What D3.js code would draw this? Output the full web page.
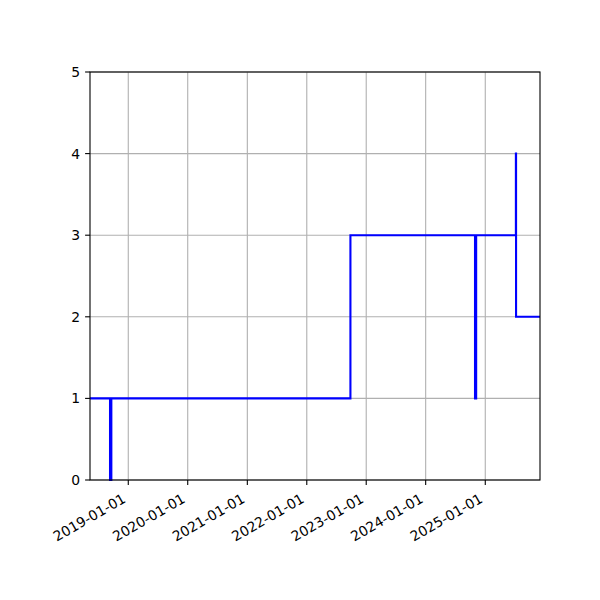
<!DOCTYPE html>
<html lang="en">
<head>
    <meta charset="UTF-8">
    <title></title>
    <script src="https://cdn.jsdelivr.net/npm/d3@7"></script>
    <style>
        body { margin: 0; background: #fff; }
        text { font-family: "DejaVu Sans", sans-serif; font-size: 13.9px; fill: #000; }
    </style>
</head>
<body>
    <script>
        const dates = [
            "2018-05-11", "2018-09-11", "2018-09-19", "2022-09-26",
            "2024-10-30", "2024-11-06", "2025-07-08", "2025-07-09", "2025-12-03"
        ];
        const values = [1, 0, 1, 3, 1, 3, 4, 2, 2];
        const yTicks = [0, 1, 2, 3, 4, 5];

        const width = 600;
        const height = 600;
        const marginTop = 72;
        const marginRight = 60;
        const marginBottom = 120;
        const marginLeft = 90;

        const parse = d3.utcParse("%Y-%m-%d");
        const data = dates.map((d, i) => ({date: parse(d), value: values[i]}));

        const x = d3.scaleUtc()
            .domain(d3.extent(data, d => d.date))
            .range([marginLeft, width - marginRight]);

        const y = d3.scaleLinear()
            .domain([0, 5])
            .range([height - marginBottom, marginTop]);

        const svg = d3.select("body").append("svg")
            .attr("width", width)
            .attr("height", height);

        const xTicks = x.ticks(d3.utcYear);
        const fmt = d3.utcFormat("%Y-%m-%d");

        // grid
        svg.append("g")
            .selectAll("line.vx")
            .data(xTicks)
            .join("line")
            .attr("x1", d => x(d)).attr("x2", d => x(d))
            .attr("y1", marginTop).attr("y2", height - marginBottom)
            .attr("stroke", "#b0b0b0").attr("stroke-width", 1.1);

        svg.append("g")
            .selectAll("line.hy")
            .data(yTicks)
            .join("line")
            .attr("x1", marginLeft).attr("x2", width - marginRight)
            .attr("y1", d => y(d)).attr("y2", d => y(d))
            .attr("stroke", "#b0b0b0").attr("stroke-width", 1.1);

        // step line
        const line = d3.line()
            .curve(d3.curveStepAfter)
            .x(d => x(d.date))
            .y(d => y(d.value));

        svg.append("path")
            .datum(data)
            .attr("fill", "none")
            .attr("stroke", "#0000ff")
            .attr("stroke-width", 2.1)
            .attr("d", line);

        // frame
        svg.append("rect")
            .attr("x", marginLeft).attr("y", marginTop)
            .attr("width", width - marginLeft - marginRight)
            .attr("height", height - marginTop - marginBottom)
            .attr("fill", "none")
            .attr("stroke", "#000").attr("stroke-width", 1.1);

        // x axis
        const xAxis = svg.append("g");
        xAxis.selectAll("line")
            .data(xTicks)
            .join("line")
            .attr("x1", d => x(d)).attr("x2", d => x(d))
            .attr("y1", height - marginBottom).attr("y2", height - marginBottom + 4.9)
            .attr("stroke", "#000").attr("stroke-width", 1.1);
        xAxis.selectAll("text")
            .data(xTicks)
            .join("text")
            .attr("text-anchor", "end")
            .attr("transform", d => `translate(${x(d) - 1.5}, ${height - marginBottom + 21.5}) rotate(-30)`)
            .text(d => fmt(d));

        // y axis
        const yAxis = svg.append("g");
        yAxis.selectAll("line")
            .data(yTicks)
            .join("line")
            .attr("x1", marginLeft - 4.9).attr("x2", marginLeft)
            .attr("y1", d => y(d)).attr("y2", d => y(d))
            .attr("stroke", "#000").attr("stroke-width", 1.1);
        yAxis.selectAll("text")
            .data(yTicks)
            .join("text")
            .attr("text-anchor", "end")
            .attr("x", marginLeft - 9.8)
            .attr("y", d => y(d))
            .attr("dy", "0.36em")
            .text(d => d);
    </script>
</body>
</html>
